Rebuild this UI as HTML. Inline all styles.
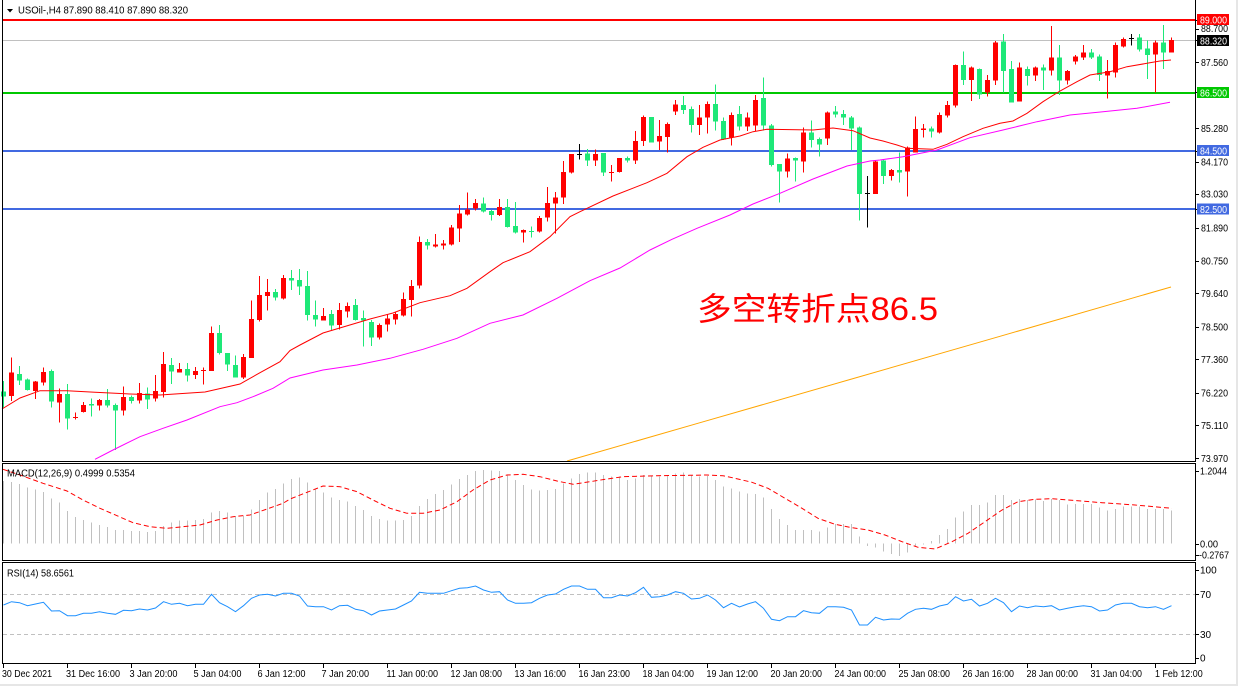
<!DOCTYPE html>
<html><head><meta charset="utf-8">
<style>
html,body{margin:0;padding:0;background:#fff;}
svg{display:block;}
text{font-family:"Liberation Sans","Noto Sans CJK SC",sans-serif;font-size:10px;fill:#000;}
</style></head>
<body>
<svg id="s" width="1238" height="686" viewBox="0 0 1238 686" xmlns="http://www.w3.org/2000/svg">
<rect x="0" y="0" width="1238" height="686" fill="#fff"/>
<rect x="0" y="684" width="1238" height="2" fill="#e6e6e6"/>
<rect x="1236" y="0" width="2" height="686" fill="#e6e6e6"/>

<!-- horizontal levels -->
<g shape-rendering="crispEdges">
<rect x="2" y="19" width="1194" height="2" fill="#ff0000"/>
<rect x="2" y="40" width="1194" height="1" fill="#c0c0c0"/>
<rect x="2" y="92" width="1194" height="2" fill="#00c800"/>
<rect x="2" y="150" width="1194" height="2" fill="#4169e1"/>
<rect x="2" y="208" width="1194" height="2" fill="#4169e1"/>
</g>

<g id="candles" shape-rendering="crispEdges"></g>

<!-- moving averages -->
<polyline fill="none" stroke="#ffa500" stroke-width="1" points="567,461 700,422.7 850,379.5 1000,336.3 1130,298.8 1171,287"/>
<polyline fill="none" stroke="#ff00ff" stroke-width="1" points="95,459.3 113,450 140,436.7 163,428.3 187,420 220,406.7 237,402.7 253,396.7 273,388.3 290,378 323,370 357,365 390,358.3 423,349.3 457,338.3 490,323.3 523,315 557,298.3 590,280.7 620,268 650,250 672,239.3 697,228.3 730,215 753,204 780,193.3 813,179 847,166 870,161 880,160 903,156.7 937,150 970,137.7 1003,130 1037,121.7 1070,115 1103,111.7 1137,108.3 1170,102.3"/>
<polyline fill="none" stroke="#ff0000" stroke-width="1" points="2,409 20,398 40,390.7 67,390.7 95,392.3 130,394 160,395 205,392 240,384 260,372.7 280,361.7 290,350.5 300,345 323,333 370,319 393,313 420,302.7 450,295.7 467,288.3 490,271.7 503,262.7 530,251.7 550,236.7 570,216.7 580,211.7 613,196 647,182.7 667,173.3 687,156.7 703,147.3 720,140 740,136 753,131.7 767,129.3 813,130 833,128 853,130.7 870,138 883,141 897,145 907,148.3 933,149.3 947,144.3 963,136.7 983,128.3 1000,123.3 1013,121 1027,113.3 1043,101.7 1060,91 1077,81.7 1090,75 1110,71.7 1127,66.7 1147,63.3 1160,61 1171,60"/>

<!-- Chinese annotation -->
<text x="697" y="320" style="font-size:32px;fill:#ff0000" textLength="241" lengthAdjust="spacingAndGlyphs">多空转折点86.5</text>

<!-- header -->
<path d="M7,9 L13,9 L10,12.5 Z" fill="#000"/>
<text x="18" y="13.5" textLength="170" lengthAdjust="spacingAndGlyphs">USOil-,H4  87.890 88.410 87.890 88.320</text>

<!-- MACD -->
<g id="macd" shape-rendering="crispEdges"></g>
<polyline fill="none" stroke="#ff0000" stroke-width="1" stroke-dasharray="5,3" points="3,469.3 20,475 43,483.3 67,491 83,500 100,508.3 117,515.7 133,522.7 150,526.7 167,528.3 183,526.7 200,525 217,520 233,516.7 250,515 267,509 283,503.3 290,499 307,492.3 323,486 340,486.7 357,491.7 373,500 390,508.3 407,513.3 423,513.3 440,510 457,501.7 473,490 490,480 507,475 523,474.3 540,476.7 557,481 573,484.3 590,481.7 607,479 623,476.7 657,475.7 690,475.3 707,475 723,475.7 735,478.3 752,482.3 768,488.3 785,498.3 802,508.3 818,518.3 835,524.3 852,527.7 868,530 885,535 902,541.7 918,547.3 935,549 952,541.7 968,533.3 985,521.7 1002,510 1018,501.7 1035,499.3 1052,498.7 1068,500 1102,502.7 1135,505 1172,508.3"/>
<text x="7" y="476.5" textLength="128" lengthAdjust="spacingAndGlyphs">MACD(12,26,9) 0.4999 0.5354</text>

<!-- RSI -->
<g shape-rendering="crispEdges">
<line x1="3" y1="594.5" x2="1195" y2="594.5" stroke="#c0c0c0" stroke-dasharray="4,3"/>
<line x1="3" y1="634.5" x2="1195" y2="634.5" stroke="#c0c0c0" stroke-dasharray="4,3"/>
</g>
<polyline id="rsi" fill="none" stroke="#1e90ff" stroke-width="1" points=""/>
<text x="7" y="576.5" textLength="67" lengthAdjust="spacingAndGlyphs">RSI(14) 58.6561</text>

<!-- frames -->
<g shape-rendering="crispEdges" stroke="#000" stroke-width="1" fill="none">
<line x1="2.5" y1="0" x2="2.5" y2="461.5"/>
<line x1="1195.5" y1="0" x2="1195.5" y2="461.5"/>
<line x1="2" y1="461.5" x2="1196" y2="461.5"/>
<rect x="2.5" y="463.5" width="1193" height="97"/>
<rect x="2.5" y="562.5" width="1193" height="101"/>
</g>

<!-- right axis ticks -->
<g stroke="#000" shape-rendering="crispEdges" id="rticks"></g>

<!-- price labels -->
<g>
<text x="1201" y="32" textLength="27" lengthAdjust="spacingAndGlyphs">88.700</text>
<text x="1201" y="66" textLength="27" lengthAdjust="spacingAndGlyphs">87.560</text>
<text x="1201" y="132" textLength="27" lengthAdjust="spacingAndGlyphs">85.280</text>
<text x="1201" y="165.5" textLength="27" lengthAdjust="spacingAndGlyphs">84.170</text>
<text x="1201" y="197.7" textLength="27" lengthAdjust="spacingAndGlyphs">83.030</text>
<text x="1201" y="231.4" textLength="27" lengthAdjust="spacingAndGlyphs">81.890</text>
<text x="1201" y="264.4" textLength="27" lengthAdjust="spacingAndGlyphs">80.750</text>
<text x="1201" y="297" textLength="27" lengthAdjust="spacingAndGlyphs">79.640</text>
<text x="1201" y="330.4" textLength="27" lengthAdjust="spacingAndGlyphs">78.500</text>
<text x="1201" y="363" textLength="27" lengthAdjust="spacingAndGlyphs">77.360</text>
<text x="1201" y="396.4" textLength="27" lengthAdjust="spacingAndGlyphs">76.220</text>
<text x="1201" y="429" textLength="27" lengthAdjust="spacingAndGlyphs">75.110</text>
<text x="1201" y="462" textLength="27" lengthAdjust="spacingAndGlyphs">73.970</text>

<rect x="1197" y="14" width="32" height="11" fill="#ff0000"/>
<text x="1200" y="23.3" textLength="27" lengthAdjust="spacingAndGlyphs" style="fill:#fff">89.000</text>
<rect x="1197" y="35" width="32" height="11" fill="#000"/>
<text x="1200" y="44.3" textLength="27" lengthAdjust="spacingAndGlyphs" style="fill:#fff">88.320</text>
<rect x="1197" y="87" width="32" height="11" fill="#00c800"/>
<text x="1200" y="96.3" textLength="27" lengthAdjust="spacingAndGlyphs" style="fill:#fff">86.500</text>
<rect x="1197" y="145" width="32" height="11" fill="#4169e1"/>
<text x="1200" y="154.3" textLength="27" lengthAdjust="spacingAndGlyphs" style="fill:#fff">84.500</text>
<rect x="1197" y="203.5" width="32" height="11" fill="#4169e1"/>
<text x="1200" y="212.8" textLength="27" lengthAdjust="spacingAndGlyphs" style="fill:#fff">82.500</text>

<text x="1200" y="474.3" textLength="27" lengthAdjust="spacingAndGlyphs">1.2044</text>
<text x="1200" y="547.3" textLength="18" lengthAdjust="spacingAndGlyphs">0.00</text>
<text x="1199" y="558.7" textLength="30" lengthAdjust="spacingAndGlyphs">-0.2767</text>
<text x="1200" y="573.7">100</text>
<text x="1200" y="598">70</text>
<text x="1200" y="638">30</text>
<text x="1200" y="661.4">0</text>
</g>

<!-- time axis -->
<g id="tticks" stroke="#000" shape-rendering="crispEdges"></g>
<g>
<text x="2" y="677" textLength="50" lengthAdjust="spacingAndGlyphs">30 Dec 2021</text>
<text x="66" y="677" textLength="54" lengthAdjust="spacingAndGlyphs">31 Dec 16:00</text>
<text x="129.5" y="677" textLength="48" lengthAdjust="spacingAndGlyphs">3 Jan 20:00</text>
<text x="193.5" y="677" textLength="48" lengthAdjust="spacingAndGlyphs">5 Jan 04:00</text>
<text x="257.5" y="677" textLength="48" lengthAdjust="spacingAndGlyphs">6 Jan 12:00</text>
<text x="321.5" y="677" textLength="47.5" lengthAdjust="spacingAndGlyphs">7 Jan 20:00</text>
<text x="386.5" y="677" textLength="51.5" lengthAdjust="spacingAndGlyphs">11 Jan 00:00</text>
<text x="450.5" y="677" textLength="51.5" lengthAdjust="spacingAndGlyphs">12 Jan 08:00</text>
<text x="514.5" y="677" textLength="51.5" lengthAdjust="spacingAndGlyphs">13 Jan 16:00</text>
<text x="578.5" y="677" textLength="51.5" lengthAdjust="spacingAndGlyphs">16 Jan 23:00</text>
<text x="642.5" y="677" textLength="51.5" lengthAdjust="spacingAndGlyphs">18 Jan 04:00</text>
<text x="706.5" y="677" textLength="51.5" lengthAdjust="spacingAndGlyphs">19 Jan 12:00</text>
<text x="770.5" y="677" textLength="51.5" lengthAdjust="spacingAndGlyphs">20 Jan 20:00</text>
<text x="834.5" y="677" textLength="51.5" lengthAdjust="spacingAndGlyphs">24 Jan 00:00</text>
<text x="898.5" y="677" textLength="51.5" lengthAdjust="spacingAndGlyphs">25 Jan 08:00</text>
<text x="962.5" y="677" textLength="51.5" lengthAdjust="spacingAndGlyphs">26 Jan 16:00</text>
<text x="1026.5" y="677" textLength="51.5" lengthAdjust="spacingAndGlyphs">28 Jan 00:00</text>
<text x="1090.5" y="677" textLength="51.5" lengthAdjust="spacingAndGlyphs">31 Jan 04:00</text>
<text x="1155" y="677" textLength="47.7" lengthAdjust="spacingAndGlyphs">1 Feb 12:00</text>
</g>
</svg>
<script>
(function(){
var NS="http://www.w3.org/2000/svg";
function el(p,t,a){var e=document.createElementNS(NS,t);for(var k in a)e.setAttribute(k,a[k]);p.appendChild(e);return e;}
var C=[
["G",381,391.7,396.7,407.7],["R",357.7,372.7,396,401],["G",366,374,380.7,385],["G",378.7,379.3,390,390.7],["R",381,381.7,391,399],
["R",367.7,372,382.7,385.7],["G",369.3,371,401.7,407.7],["R",388.3,394,402.7,422.7],["G",384,394,418.7,429.7],["R",412.3,417,417.7,419.7],
["R",402,405,412,412.7],["G",398.3,404,405.7,416.7],["R",399,400,405.7,410.7],["G",389,400,405.7,407.7],["G",403.3,405,410.7,450],
["R",386.7,397,410.7,415.7],["G",395.7,397,401,403.7],["R",383,393,400.7,403.7],["G",387.3,393.3,399.3,409],["R",375,391,398.7,401.7],
["R",352,364,392,397.3],["G",358,365,371.7,384],["R",363,369,372.7,372.7],["G",363,369,375.7,381.7],["R",367,371,375,379],
["R",367.3,370,370.7,384.7],["R",326.7,333,371,371],["G",325,333,353,354.7],["G",353,353,364.7,371],["G",355.3,365,377.7,377.7],
["R",354,357,377.7,379],["R",300.7,319,358,358],["R",276,295,320,321.7],["R",279,292,296,310.7],["G",289,292,297.7,300.7],
["R",275,278,298.7,299.3],["G",270,278,280.7,290],["G",269,280,286.7,295],["G",271,286,315,320.7],["G",300.7,315,319.3,326.7],
["R",308,316,320.7,320.7],["G",310,314,325.7,330.7],["R",303,310,325,329.3],["R",302.7,306,311.7,317.3],["G",299,305,320,320.7],
["G",310.7,318,320.7,346.7],["G",320,322,337.3,346],["R",323.7,325,337.7,339.3],["R",314,318.7,324.7,331.7],["R",312.3,314,319.7,324.3],
["R",292.3,299,315.3,316.7],["R",280,286,300,316.7],["R",236.7,242,285.7,288.3],["G",239,242,245.3,249.3],["R",234,244.7,246.7,247.3],
["R",240,243.3,245.3,249.3],["R",225,227.7,244.7,245.7],["R",205,213.3,228.7,242],["R",192.7,209.3,214.7,215.3],["R",199,203,208.3,210.7],
["G",197.3,203.3,211.7,212.7],["G",210,211,215,220.7],["R",199,207,215,216],["G",199,207,227,227.3],["G",202,226,232.7,233.3],
["R",229.3,230,232.7,242.7],["G",226.7,231,231.7,237.3],["R",216,218,231.7,232.3],["R",187,203,217.3,221.7],["R",192,197.7,203.7,233.3],
["R",161,172,197.3,204],["R",154,154,172.7,173.3],["K",144,154,154,159.3],["G",149,153.3,160.7,166],["R",149.3,154,160.7,166],
["G",153,153,172.7,176],["R",165,172,172.7,181.7],["R",158,158,172,172.7],["G",156.7,158,160.3,162.7],["R",131,141,160.7,164],
["R",115.7,117,141,146],["G",117,117,142.7,142.7],["R",120,136,141.7,150],["R",122.7,124,137,152.7],["R",100,104.3,111.7,115],
["G",96,105,110,114],["G",106.7,109,125,132.7],["R",105,117.3,125,135],["R",101.7,104,117.7,133.7],["G",84.3,104,121.7,130.7],
["G",117.3,121,139.3,140],["R",112.3,115,137.7,145.7],["G",106,114,126.7,130.7],["R",112.3,117.3,126.7,131],["R",95,100,125.7,131.7],
["G",77.3,98,125.7,130.7],["G",124,125.3,165,166.7],["G",164,164,171.7,202.7],["R",153.3,158.3,171.7,177.7],["G",157.3,158,160.7,181.7],
["R",127.7,132.7,161.7,172.7],["G",120.7,132.7,140,147.3],["G",137.3,139,144.3,156.7],["R",111.7,112.7,138.7,145],["G",106,111.7,114.3,117.7],
["G",110,114,117.7,125],["G",116,117.3,128.3,150],["G",126.7,127.3,194,220.7],["K",176,193.3,193.3,227.7],["R",160,161.7,194,194],
["G",159,160.7,176,184],["R",169,170,176,180.7],["G",152.3,170,172.7,182.7],["R",146.7,147.7,171.7,196.7],["R",116.7,129,152.3,152.3],
["R",124,128.3,130,137.7],["G",126.7,128.3,131.7,137.7],["R",112.3,115,132.3,133.3],["R",101,105,115.7,117.7],["R",64.3,65,105.7,107.7],
["G",51.7,65,80,85],["R",66.7,67.7,80,101],["G",68.3,69,94.3,99],["R",75,80,92.3,96.7],["R",41,42.7,80.7,85],
["G",34,41.7,71,92.3],["G",61,69,102.3,102.3],["R",62.3,67.7,101.7,101.7],["G",66.7,69,76,85.7],["R",66.7,67.3,75.7,81],
["G",64.3,67.7,70.7,90],["R",26,57.7,70.7,75.7],["G",45,57.7,80.7,95],["R",70,71,80.7,84.3],["R",55,56.7,61.7,64.3],
["R",45,52.7,57.7,60],["G",49,52.7,57.7,59],["G",54.3,56.7,75,81],["R",60,71,75.7,98.3],["R",42.7,45,72.7,77.7],
["R",37.3,39,46.7,47.7],["K",34,38.3,38.3,45.7],["G",34,37.7,49.3,51.7],["G",40.7,48.3,55,79],["R",40.7,42.7,54.3,92.3],
["G",25,42.7,52.7,69],["R",37.3,40,52.7,52.7]
];
var col={R:"#ff0000",G:"#1ee878",K:"#000000"};
var g=document.getElementById("candles");
for(var i=0;i<C.length;i++){
 var c=C[i],x0=8*i,f=col[c[0]];
 el(g,"rect",{x:x0+3,y:c[1],width:1,height:Math.max(c[4]-c[1],1),fill:f});
 var bh=c[3]-c[2]; if(bh<1)bh=1;
 el(g,"rect",{x:x0+1,y:(c[0]=="K"?Math.round(c[2]):c[2]),width:5,height:bh,fill:f});
}
var M=[481,482,484,487.7,489.3,492,498.3,502.7,511,517,
520,522.7,525,527,530,530,531,531,532,531,
526,522.7,520.7,520.7,520,519,512.7,511,512.7,516,
516,509.3,500,492.7,489,483.3,479,477.7,482.7,488.3,
492.7,497.7,500,501.7,506,510,516,519,520.7,520.7,
520,516,506,499,494,490,484.3,479,475,471,
470,470.7,471,475.7,480,485,489.3,490.7,490,489,
483.3,478.3,474,472.7,472.3,475,476.7,476.7,480,478.3,
475,475.7,476.7,476,473.3,472.3,475.7,476.7,476,480,
486.7,488.3,491.7,493.3,494,497.7,509,519,525,530,
530,530,531.7,527.7,524,524,524,536.7,546,547.3,
551.7,554,556,552.7,546,543.5,541,535,529,517.7,
511.7,505,505,502.7,495,495,500,499,500,499.3,
501,499,500,504.3,504,504,504,507.7,510.7,509,
506.7,506.7,506.7,509,509,509,510.7];
var mg=document.getElementById("macd"),Z=543.5;
for(var i=0;i<M.length;i++){
 var t=Math.min(M[i],Z),b=Math.max(M[i],Z);
 el(mg,"rect",{x:8*i+3,y:t,width:1,height:Math.max(b-t,1),fill:"#c0c0c0"});
}
var R=[605,601.7,602.7,605.7,604,602.3,611,610.7,615.7,615.7,
613.3,613.3,611.7,613.3,614.3,610.3,610.7,609,610,608,
601.7,604.3,603.3,605.7,604.3,604.3,594.3,602.7,606.7,611.7,
605.7,598.3,595,594.3,596,593.3,593.3,596,606,606.7,
606.7,610,605.7,605.3,609.3,610.7,615,611,610,609,
605,601,592.3,593.3,593.3,593.3,590.7,588.3,587.7,586,
590,592.3,591.7,600,603.3,603.3,602.7,598.3,595,594,
589.3,586,586,589.3,589.3,597.7,597.7,595,596,592.7,
587.3,597.3,596.7,595,591.7,593.3,599,598.3,595,600,
607.7,603.3,607,604,601.7,608.3,619.3,620.7,616.7,616.7,
610.7,612.7,613.3,606.7,606.7,607.3,610,625,625,617.3,
620,619,619.3,613.3,609.3,608.3,609.3,606,604.3,596.7,
601,599.3,606,603.3,598.3,602.7,611.7,606,607.7,606,
606.7,605.7,610,608.3,606.7,605.7,606.7,611,610,605,
603.3,603.3,606.7,607.7,606.7,609.3,605.7];
var pts=[];for(var i=0;i<R.length;i++)pts.push((3.5+8*i)+","+R[i]);
document.getElementById("rsi").setAttribute("points",pts.join(" "));
var rt=document.getElementById("rticks");
[19.5,28.5,40,62.3,92,128.3,150.7,161.7,194,208.7,227.7,260.7,293.3,326.7,359.3,392.7,425.3,458.3,470.7,543.7,555,570,594.3,634.3,657.7].forEach(function(y){
 el(rt,"line",{x1:1196,y1:Math.round(y)+0.5,x2:1199,y2:Math.round(y)+0.5});
});
var tt=document.getElementById("tticks");
for(var k=0;k<19;k++){var x=3.5+64*k;el(tt,"line",{x1:x,y1:664,x2:x,y2:668});}
})();
</script>
</body></html>
